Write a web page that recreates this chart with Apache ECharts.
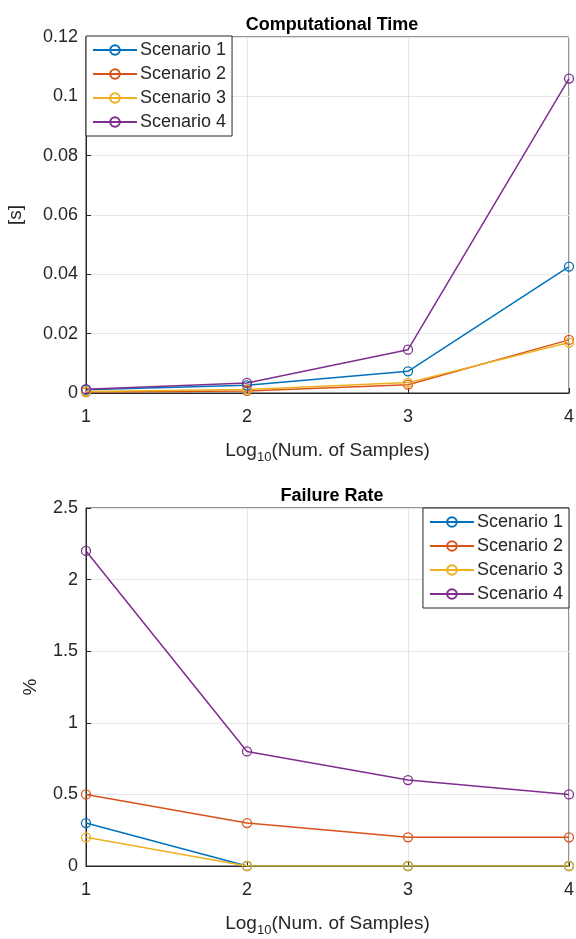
<!DOCTYPE html>
<html>
<head>
<meta charset="utf-8">
<script src="https://cdn.jsdelivr.net/npm/echarts@6/dist/echarts.min.js"></script>
<style>
  html, body { margin: 0; padding: 0; background: #fff; }
  #chart { width: 576px; height: 939px; }
</style>
</head>
<body>
<div id="chart"></div>
<script>
// x positions: log10 of the sample count
const samples = [1, 2, 3, 4];
const names = ['Scenario 1', 'Scenario 2', 'Scenario 3', 'Scenario 4'];
const colors = ['#0072BD', '#D95319', '#EDB120', '#7E2F8E'];

// computational time [s]
const time1 = [0.0011, 0.0026, 0.0073, 0.0426];
const time2 = [0.0003, 0.0007, 0.0028, 0.0179];
const time3 = [0.0005, 0.0012, 0.0035, 0.0170];
const time4 = [0.0013, 0.0034, 0.0146, 0.1060];

// failure rate [%]
const fail1 = [0.3, 0, 0, 0];
const fail2 = [0.5, 0.3, 0.2, 0.2];
const fail3 = [0.2, 0, 0, 0];
const fail4 = [2.2, 0.8, 0.6, 0.5];

const FONT = 'Liberation Sans, Arial, sans-serif';
const TXT = '#262626';

const chart = echarts.init(document.getElementById('chart'));

const pairs = (ys) => samples.map((x, i) => [x, ys[i]]);

// hollow circle markers like matlab's 'o-'
const makeSeries = (sets, gridIdx) => sets.map((ys, i) => ({
  name: names[i],
  type: 'line',
  xAxisIndex: gridIdx,
  yAxisIndex: gridIdx,
  data: pairs(ys),
  symbol: 'circle',
  symbolSize: 9,
  showSymbol: true,
  lineStyle: { width: 1.5, color: colors[i] },
  itemStyle: { color: 'rgba(255,255,255,0)', borderColor: colors[i], borderWidth: 1.3 },
  animation: false
}));

const xAxisFor = (gridIdx) => ({
  type: 'value',
  gridIndex: gridIdx,
  min: 1,
  max: 4,
  interval: 1,
  name: '{a|Log}{s|10}{a|(Num. of Samples)}',
  nameLocation: 'middle',
  nameGap: 44,
  nameTextStyle: {
    rich: {
      a: { fontFamily: FONT, fontSize: 19, color: TXT },
      s: { fontFamily: FONT, fontSize: 13, color: TXT, padding: [14, 0, 0, 0] }
    }
  },
  axisLine: { show: true, lineStyle: { color: TXT, width: 1 } },
  axisTick: { show: true, inside: true, length: 5, lineStyle: { color: TXT } },
  axisLabel: { fontFamily: FONT, fontSize: 18, color: TXT, margin: 15 },
  splitLine: { show: true, lineStyle: { color: '#e6e6e6', width: 1 } }
});

const yAxisFor = (gridIdx, max, interval, name, gap) => ({
  type: 'value',
  gridIndex: gridIdx,
  min: 0,
  max: max,
  interval: interval,
  name: name,
  nameLocation: 'middle',
  nameGap: gap,
  nameRotate: 90,
  nameTextStyle: { fontFamily: FONT, fontSize: 19, color: TXT },
  axisLine: { show: true, lineStyle: { color: TXT, width: 1 } },
  axisTick: { show: true, inside: true, length: 5, lineStyle: { color: TXT } },
  axisLabel: { fontFamily: FONT, fontSize: 18, color: TXT, margin: 8 },
  splitLine: { show: true, lineStyle: { color: '#e6e6e6', width: 1 } }
});

const legendFor = (pos) => Object.assign({
  data: names.map((n, i) => ({ name: n, itemStyle: { color: 'rgba(255,255,255,0)', borderColor: colors[i] } })),
  orient: 'vertical',
  backgroundColor: '#fff',
  borderColor: TXT,
  borderWidth: 1,
  borderRadius: 0,
  padding: [5, 6, 5, 6],
  itemGap: 6,
  itemWidth: 44,
  itemHeight: 12,
  selectedMode: false,
  textStyle: { fontFamily: FONT, fontSize: 18, color: TXT, padding: [0, 0, 0, -2] }
}, pos);

chart.setOption({
  backgroundColor: '#fff',
  animation: false,
  title: [
    {
      text: 'Computational Time',
      left: 327,
      top: 11,
      textAlign: 'center',
      textStyle: { fontFamily: FONT, fontSize: 18, fontWeight: 'bold', color: '#000' }
    },
    {
      text: 'Failure Rate',
      left: 327,
      top: 482,
      textAlign: 'center',
      textStyle: { fontFamily: FONT, fontSize: 18, fontWeight: 'bold', color: '#000' }
    }
  ],
  legend: [
    legendFor({ left: 86, top: 36 }),
    legendFor({ right: 7, top: 508 })
  ],
  grid: [
    { left: 86, right: 7, top: 37, height: 356, show: true, borderColor: TXT, borderWidth: 1, backgroundColor: 'transparent', outerBoundsMode: 'none', containLabel: false },
    { left: 86, right: 7, top: 508, height: 358, show: true, borderColor: TXT, borderWidth: 1, backgroundColor: 'transparent', outerBoundsMode: 'none', containLabel: false }
  ],
  xAxis: [xAxisFor(0), xAxisFor(1)],
  yAxis: [
    yAxisFor(0, 0.12, 0.02, '[s]', 61),
    yAxisFor(1, 2.5, 0.5, '%', 46)
  ],
  series: [
    ...makeSeries([time1, time2, time3, time4], 0),
    ...makeSeries([fail1, fail2, fail3, fail4], 1)
  ]
});
</script>
</body>
</html>
